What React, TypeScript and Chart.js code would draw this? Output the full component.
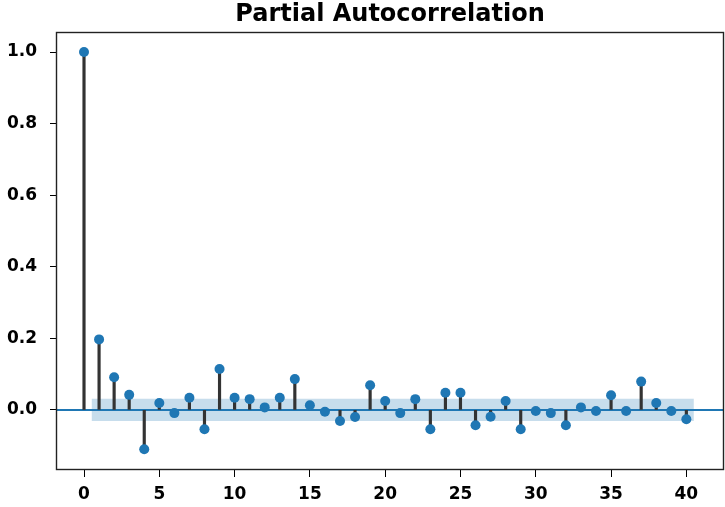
import React, { useEffect, useRef } from "react";
import { Chart, registerables } from "chart.js";

Chart.register(...registerables);

const chartTitle = "Partial Autocorrelation";
const lags: number[] = Array.from({ length: 41 }, (_, i) => i);
const pacfValues: number[] = [
  1.0, 0.197, 0.091, 0.042, -0.11, 0.019, -0.009, 0.034, -0.054, 0.114,
  0.034, 0.03, 0.007, 0.034, 0.086, 0.013, -0.005, -0.031, -0.02, 0.069,
  0.025, -0.009, 0.03, -0.054, 0.048, 0.048, -0.043, -0.019, 0.025, -0.054,
  -0.003, -0.009, -0.043, 0.007, -0.003, 0.041, -0.003, 0.079, 0.019, -0.003,
  -0.026,
];
const confBand: number = 0.031;
const bandStart: number = 0.5;
const bandEnd: number = 40.5;
const xTicks: number[] = [0, 5, 10, 15, 20, 25, 30, 35, 40];
const yTicks: number[] = [0, 0.2, 0.4, 0.6, 0.8, 1.0];
const xMin = -1.86;
const xMax = 42.5;
const yMin = -0.168;
const yMax = 1.056;

const BLUE = "#1f77b4";
const FONT = "'DejaVu Sans', sans-serif";

const framePlugin = {
  id: "frame",
  afterDatasetsDraw(chart: any) {
    const { ctx, chartArea } = chart;
    ctx.save();
    ctx.strokeStyle = "#222";
    ctx.lineWidth = 1.4;
    ctx.strokeRect(
      Math.round(chartArea.left) + 0.5,
      Math.round(chartArea.top) + 0.5,
      Math.round(chartArea.right - chartArea.left) - 1,
      Math.round(chartArea.bottom - chartArea.top) - 1
    );
    ctx.fillStyle = "#000";
    ctx.font = `bold 24px ${FONT}`;
    ctx.textAlign = "center";
    ctx.textBaseline = "alphabetic";
    ctx.fillText(chartTitle, (chartArea.left + chartArea.right) / 2, 21);
    ctx.restore();
  },
};

export default function App() {
  const ref = useRef<HTMLCanvasElement | null>(null);
  useEffect(() => {
    document.body.style.margin = "0";
    if (!ref.current) return;
    const chart = new Chart(ref.current, {
      type: "line",
      data: {
        datasets: [
          {
            type: "scatter",
            label: "pacf",
            data: lags.map((l, i) => ({ x: l, y: pacfValues[i] })),
            backgroundColor: BLUE,
            borderColor: BLUE,
            pointRadius: 5,
            pointBorderWidth: 0,
            showLine: false,
            order: 0,
          } as any,
          {
            type: "bar",
            label: "stems",
            data: lags.map((l, i) => ({ x: l, y: [0, pacfValues[i]] })),
            backgroundColor: "#333333",
            borderWidth: 0,
            barThickness: 2.5,
            order: 1,
          } as any,
          {
            type: "line",
            label: "zero",
            data: [
              { x: xMin, y: 0 },
              { x: xMax, y: 0 },
            ],
            borderColor: BLUE,
            borderWidth: 2,
            pointRadius: 0,
            fill: false,
            order: 2,
          } as any,
          {
            type: "line",
            label: "upper",
            data: [
              { x: bandStart, y: confBand },
              { x: bandEnd, y: confBand },
            ],
            borderWidth: 0,
            borderColor: "rgba(0,0,0,0)",
            pointRadius: 0,
            fill: "+1",
            backgroundColor: "rgba(31,119,180,0.25)",
            order: 3,
          } as any,
          {
            type: "line",
            label: "lower",
            data: [
              { x: bandStart, y: -confBand },
              { x: bandEnd, y: -confBand },
            ],
            borderWidth: 0,
            borderColor: "rgba(0,0,0,0)",
            pointRadius: 0,
            fill: false,
            order: 4,
          } as any,
        ],
      },
      options: {
        animation: false,
        responsive: false,
        parsing: true,
        layout: { autoPadding: false, padding: { left: 0, right: 1, top: 32, bottom: 0 } },
        plugins: {
          legend: { display: false },
          tooltip: { enabled: false },
          title: { display: false },
        },
        scales: {
          x: {
            type: "linear",
            min: xMin,
            max: xMax,
            offset: false,
            afterBuildTicks: (scale: any) => {
              scale.ticks = xTicks.map((v) => ({ value: v }));
            },
            afterFit: (scale: any) => {
              scale.height = 37;
              scale.paddingLeft = 0;
              scale.paddingRight = 0;
            },
            grid: {
              display: true,
              offset: false,
              drawOnChartArea: false,
              drawTicks: true,
              tickLength: 7,
              tickColor: "#000",
              tickWidth: 1,
            },
            border: { display: false },
            ticks: {
              color: "#000",
              padding: 7,
              maxRotation: 0,
              autoSkip: false,
              font: { family: FONT, size: 17, weight: "bold" },
              callback: (v: any) => String(v),
            },
          },
          y: {
            type: "linear",
            min: yMin,
            max: yMax,
            afterBuildTicks: (scale: any) => {
              scale.ticks = yTicks.map((v) => ({ value: v }));
            },
            afterFit: (scale: any) => {
              scale.width = 56;
              scale.paddingTop = 0;
              scale.paddingBottom = 0;
            },
            grid: {
              display: true,
              drawOnChartArea: false,
              drawTicks: true,
              tickLength: 6,
              tickColor: "#000",
              tickWidth: 1,
            },
            border: { display: false },
            ticks: {
              color: "#000",
              padding: 13,
              autoSkip: false,
              font: { family: FONT, size: 17, weight: "bold" },
              callback: (v: any) => Number(v).toFixed(1),
            },
          },
        },
      },
      plugins: [framePlugin],
    });
    return () => chart.destroy();
  }, []);
  return (
    <div style={{ position: "absolute", left: 0, top: 0, width: 725, height: 507, background: "#fff" }}>
      <canvas ref={ref} width={725} height={507} />
    </div>
  );
}
